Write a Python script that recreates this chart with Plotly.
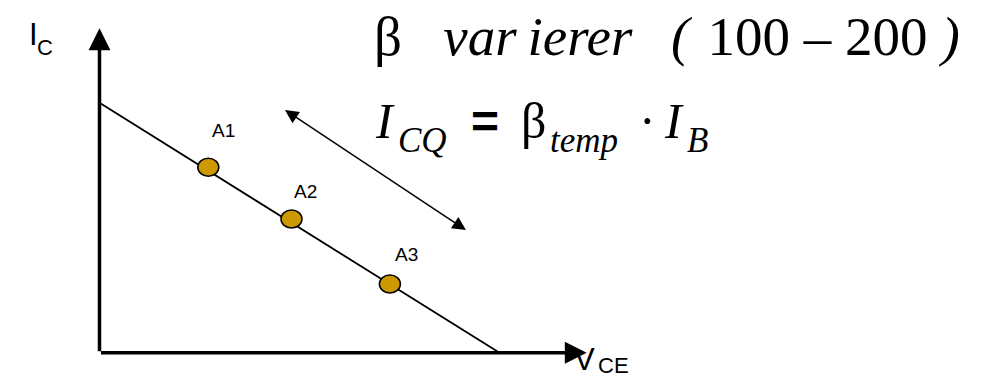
import plotly.graph_objects as go

W, H = 982, 380

# ---------------- data (V_CE, I_C in arbitrary units) ----------------
load_line_vce = [0.0, 10.0]
load_line_ic = [10.0, 0.0]
q_labels = ["A1", "A2", "A3"]
q_vce = [2.72, 4.80, 7.26]
q_ic = [7.42, 5.35, 2.75]
axis_tip_vce = 12.18
axis_tip_ic = 12.98
beta_arrow_vce = [4.60, 9.16]
beta_arrow_ic = [9.75, 4.91]

# ---------------- styling ----------------
GOLD = "#CC9900"
SERIF = "Liberation Serif, Times New Roman, serif"
SANS = "Liberation Sans, Arial, sans-serif"
ASC_SERIF, ASC_SANS = 0.891, 0.905

# axis mapping: origin at pixel (99.5, 352.8), 40 px per V unit, 25 px per I unit
X0PX, Y0PX, SX, SY = 99.5, 352.8, 40.0, 25.0
xr = [-X0PX / SX, (W - X0PX) / SX]
yr = [-(H - Y0PX) / SY, Y0PX / SY]

fig = go.Figure()

# load line
fig.add_trace(go.Scatter(x=load_line_vce, y=load_line_ic, mode="lines",
                         line=dict(color="black", width=1.8),
                         hoverinfo="skip", showlegend=False))

shapes = []
for v, i in zip(q_vce, q_ic):
    shapes.append(dict(type="circle", xref="x", yref="y",
                       xsizemode="pixel", ysizemode="pixel",
                       xanchor=v, yanchor=i, x0=-10.5, x1=10.5, y0=-9, y1=9,
                       fillcolor=GOLD, line=dict(color="black", width=1.5),
                       layer="above"))

annotations = []
# axes arrows
annotations.append(dict(x=0, y=axis_tip_ic, ax=0, ay=0, xref="x", yref="y",
                        axref="x", ayref="y", text="", showarrow=True,
                        arrowhead=2, arrowsize=1.25, arrowwidth=3.5,
                        arrowcolor="black"))
annotations.append(dict(x=axis_tip_vce, y=0, ax=0, ay=0, xref="x", yref="y",
                        axref="x", ayref="y", text="", showarrow=True,
                        arrowhead=2, arrowsize=1.25, arrowwidth=3.5,
                        arrowcolor="black"))
# beta double arrow
annotations.append(dict(x=beta_arrow_vce[1], y=beta_arrow_ic[1],
                        ax=beta_arrow_vce[0], ay=beta_arrow_ic[0],
                        xref="x", yref="y", axref="x", ayref="y", text="",
                        showarrow=True, arrowside="end+start",
                        arrowhead=2, startarrowhead=2,
                        arrowsize=1.8, startarrowsize=1.8, arrowwidth=1.5,
                        arrowcolor="black"))

# point labels
label_shift = [(14.7, 36.8), (13.5, 28.0), (16.5, 29.5)]
for lab, v, i, (dx, dy) in zip(q_labels, q_vce, q_ic, label_shift):
    annotations.append(dict(x=v, y=i, xref="x", yref="y", text=lab,
                            showarrow=False, xanchor="center", yanchor="middle",
                            xshift=dx, yshift=dy,
                            font=dict(size=19, family=SANS, color="black")))


def txt(s, left_px, base_px, size, family, asc):
    return dict(text=s, xref="paper", yref="paper",
                x=(left_px - 2) / W, y=1 - (base_px - 2 - asc * size) / H,
                xanchor="left", yanchor="top", showarrow=False,
                font=dict(size=size, family=family, color="black"))


NB = "\u00a0"
line1 = ("β" + NB * 3 + "<i>var\u2009ierer</i>" + NB * 2 + "\u2009<i>(</i>" + NB +
         "\u200a100" + NB + "–" + NB + "200" + NB + "<i>)</i>")
annotations.append(txt(line1, 374, 55, 55, SERIF, ASC_SERIF))

# formula I_CQ = beta_temp . I_B
annotations.append(txt("<i>I</i>", 375, 138, 50, SERIF, ASC_SERIF))
annotations.append(txt("<i>CQ</i>", 398, 152, 35, SERIF, ASC_SERIF))
annotations.append(txt("<b>=</b>", 471, 138, 48, SANS, ASC_SANS))
annotations.append(txt("β", 521, 138, 50, SERIF, ASC_SERIF))
annotations.append(txt("<i>temp</i>", 550, 152, 35, SERIF, ASC_SERIF))
annotations.append(txt("·", 639, 138, 50, SERIF, ASC_SERIF))
annotations.append(txt("<i>I</i>", 664, 138, 50, SERIF, ASC_SERIF))
annotations.append(txt("<i>B</i>", 687, 152, 35, SERIF, ASC_SERIF))

# axis labels
annotations.append(txt("I", 29, 45, 31, SANS, ASC_SANS))
annotations.append(txt("C", 37, 55, 22, SANS, ASC_SANS))
annotations.append(txt("V", 574, 370, 31, SANS, ASC_SANS))
annotations.append(txt("CE", 598, 373, 22, SANS, ASC_SANS))

fig.update_layout(
    width=W, height=H,
    margin=dict(l=0, r=0, t=0, b=0),
    paper_bgcolor="white", plot_bgcolor="white",
    xaxis=dict(range=xr, visible=False, fixedrange=True),
    yaxis=dict(range=yr, visible=False, fixedrange=True),
    shapes=shapes, annotations=annotations,
    showlegend=False,
)

fig.write_html("out.html", config={"displayModeBar": False},
               post_script="document.body.style.margin='0';document.body.style.padding='0';document.body.style.overflow='hidden';")
